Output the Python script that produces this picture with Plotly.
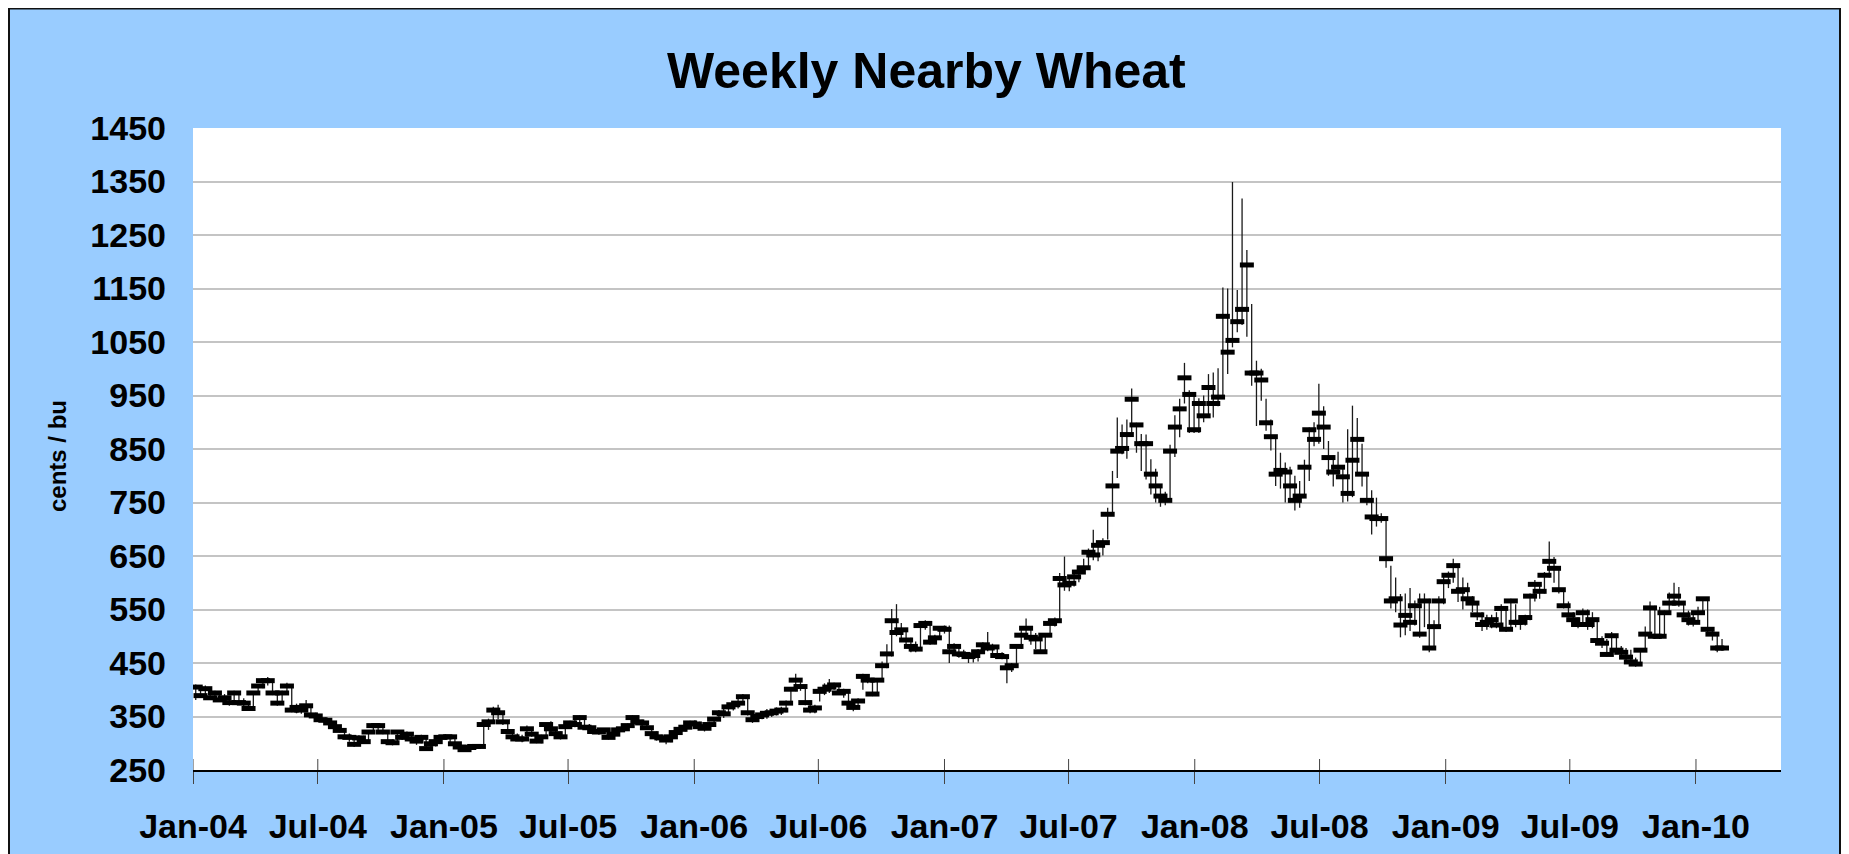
import pandas as pd
import plotly.graph_objects as go

# ---------------- data (weekly, cents / bu) ----------------
START_WEEK = "2004-01-05"

CLOSE = [
    405, 389, 402, 385, 394, 381, 385, 376, 394, 376,
    375, 365, 394, 407, 417, 417, 394, 375, 394, 407,
    362, 367, 362, 370, 353, 351, 344, 343, 338, 331,
    324, 312, 311, 298, 310, 303, 321, 333, 333, 321,
    303, 301, 321, 311, 317, 308, 304, 311, 290, 299,
    303, 311, 312, 312, 299, 293, 288, 292, 294, 294,
    335, 340, 362, 357, 340, 322, 312, 308, 308, 327,
    317, 304, 312, 335, 327, 318, 312, 331, 338, 335,
    348, 330, 329, 322, 321, 325, 311, 317, 325, 327,
    333, 348, 340, 338, 329, 318, 312, 310, 306, 312,
    320, 326, 330, 338, 336, 331, 328, 335, 345, 357,
    355, 368, 372, 375, 387, 357, 344, 350, 353, 356,
    357, 360, 362, 375, 401, 418, 406, 376, 362, 366,
    397, 401, 405, 409, 394, 397, 375, 367, 379, 425,
    418, 392, 418, 445, 467, 529, 507, 512, 493, 481,
    476, 520, 524, 489, 497, 515, 513, 471, 481, 467,
    466, 462, 464, 471, 484, 478, 480, 464, 462, 441,
    445, 481, 502, 515, 498, 495, 471, 502, 524, 529,
    608, 596, 599, 611, 620, 628, 657, 652, 670, 675,
    728, 781, 846, 851, 877, 943, 895, 860, 860, 803,
    781, 762, 754, 846, 891, 925, 983, 952, 886, 935,
    912, 965, 935, 947, 1098, 1031, 1053, 1088, 1111, 1194,
    992, 992, 979, 899, 873, 803, 810, 807, 781, 754,
    762, 816, 886, 868, 917, 891, 834, 807, 816, 798,
    767, 829, 868, 803, 754, 723, 720, 720, 645, 566,
    570, 521, 539, 526, 557, 504, 566, 478, 518, 566,
    602, 614, 632, 584, 587, 570, 562, 540, 522, 526,
    531, 521, 552, 513, 566, 526, 526, 535, 575, 597,
    584, 614, 640, 627, 587, 557, 540, 531, 522, 544,
    522, 531, 492, 487, 466, 501, 474, 470, 461, 452,
    448, 474, 504, 553, 500, 500, 544, 562, 575, 562,
    540, 531, 526, 544, 570, 513, 504, 478, 478,
]

HIGH = [
    410, 406, 408, 403, 398, 396, 392, 388, 398, 395,
    384, 378, 396, 410, 421, 424, 418, 397, 398, 413,
    409, 374, 373, 381, 371, 357, 352, 348, 345, 340,
    333, 326, 318, 313, 315, 314, 323, 338, 338, 336,
    322, 307, 324, 324, 322, 320, 313, 316, 312, 301,
    306, 314, 317, 315, 314, 301, 295, 295, 297, 298,
    337, 346, 368, 372, 359, 343, 325, 318, 316, 333,
    330, 320, 316, 338, 341, 330, 322, 334, 342, 344,
    352, 349, 336, 332, 328, 328, 326, 320, 328, 331,
    337, 352, 350, 344, 340, 330, 322, 316, 314, 318,
    325, 330, 334, 342, 343, 340, 337, 340, 349, 362,
    364, 371, 378, 385, 392, 390, 360, 356, 358, 364,
    362, 367, 368, 380, 405, 430, 422, 405, 380, 372,
    401, 412, 420, 413, 412, 402, 398, 380, 384, 430,
    428, 420, 421, 453, 485, 551, 560, 525, 515, 497,
    490, 524, 530, 527, 503, 518, 520, 520, 487, 484,
    475, 470, 469, 476, 489, 508, 486, 481, 470, 464,
    450, 485, 514, 533, 515, 506, 496, 505, 527, 535,
    618, 649, 612, 620, 630, 645, 664, 699, 674, 683,
    740, 809, 909, 896, 905, 963, 899, 878, 877, 831,
    813, 781, 770, 858, 913, 944, 1011, 960, 955, 945,
    950, 990, 993, 1001, 1152, 1150, 1349, 1147, 1318, 1222,
    1121, 1015, 1000, 944, 905, 875, 843, 825, 817, 800,
    790, 830, 890, 900, 972, 930, 865, 838, 845, 820,
    887, 931, 908, 860, 806, 773, 759, 730, 720, 632,
    610, 579, 580, 590, 567, 580, 580, 570, 530, 575,
    615, 621, 645, 632, 610, 600, 575, 565, 545, 540,
    540, 545, 560, 555, 570, 560, 535, 540, 580, 605,
    600, 620, 677, 648, 625, 590, 565, 545, 535, 552,
    550, 545, 532, 500, 495, 508, 500, 482, 478, 475,
    460, 478, 518, 565, 557, 555, 548, 582, 600, 592,
    566, 548, 540, 555, 572, 570, 515, 505, 495,
]

LOW = [
    381, 386, 387, 382, 380, 377, 378, 370, 374, 372,
    368, 362, 363, 390, 403, 408, 390, 370, 372, 390,
    358, 356, 355, 358, 350, 345, 341, 337, 333, 328,
    320, 308, 303, 293, 296, 299, 300, 318, 325, 317,
    300, 296, 300, 306, 308, 302, 297, 300, 288, 288,
    294, 300, 307, 299, 296, 288, 284, 286, 289, 290,
    293, 325, 338, 345, 334, 318, 306, 304, 302, 305,
    312, 300, 300, 310, 320, 310, 307, 310, 327, 330,
    333, 327, 322, 318, 316, 318, 307, 309, 314, 321,
    324, 330, 334, 330, 325, 314, 305, 304, 298, 302,
    310, 316, 322, 327, 330, 325, 322, 325, 331, 343,
    347, 354, 361, 365, 372, 352, 338, 340, 345, 346,
    349, 352, 353, 358, 372, 397, 398, 371, 356, 356,
    378, 390, 394, 400, 390, 385, 372, 360, 364, 400,
    412, 388, 390, 418, 440, 462, 500, 495, 485, 470,
    470, 475, 512, 484, 485, 495, 505, 450, 466, 460,
    459, 450, 451, 453, 468, 472, 468, 461, 457, 412,
    433, 445, 476, 496, 484, 476, 468, 470, 500, 518,
    529, 585, 584, 593, 601, 618, 625, 642, 640, 651,
    681, 725, 796, 840, 832, 880, 843, 809, 793, 765,
    750, 742, 745, 752, 835, 872, 935, 880, 880, 880,
    900, 915, 909, 930, 945, 990, 1040, 1068, 1082, 1060,
    968, 893, 940, 884, 847, 781, 776, 750, 750, 735,
    740, 760, 790, 855, 860, 850, 800, 780, 800, 750,
    752, 760, 800, 780, 745, 690, 705, 712, 628, 552,
    545, 498, 502, 510, 520, 497, 517, 470, 476, 515,
    560, 590, 600, 564, 550, 565, 545, 530, 510, 512,
    515, 515, 515, 508, 510, 517, 512, 520, 530, 565,
    570, 580, 610, 600, 580, 552, 535, 525, 515, 520,
    512, 515, 487, 478, 462, 465, 468, 460, 455, 446,
    443, 447, 472, 500, 495, 495, 498, 540, 558, 555,
    535, 520, 518, 525, 540, 508, 492, 470, 473,
]

TICK_DATES = ["2004-01-01", "2004-07-01", "2005-01-01", "2005-07-01",
              "2006-01-01", "2006-07-01", "2007-01-01", "2007-07-01",
              "2008-01-01", "2008-07-01", "2009-01-01", "2009-07-01",
              "2010-01-01"]
TICK_LABELS = ["Jan-04", "Jul-04", "Jan-05", "Jul-05", "Jan-06", "Jul-06",
               "Jan-07", "Jul-07", "Jan-08", "Jul-08", "Jan-09", "Jul-09",
               "Jan-10"]
Y_TICKS = [250, 350, 450, 550, 650, 750, 850, 950, 1050, 1150, 1250, 1350, 1450]

TITLE = "Weekly Nearby Wheat"
Y_TITLE = "cents / bu"

# ---------------- figure ----------------
n = min(len(CLOSE), len(HIGH), len(LOW))
dates = pd.date_range(START_WEEK, periods=n, freq="7D")
close = CLOSE[:n]
up = [h - c for h, c in zip(HIGH[:n], close)]
down = [c - l for c, l in zip(close, LOW[:n])]

BLUE = "#99CCFF"
FIG_W, FIG_H = 1833, 850
ML, MR, MT, MB = 185, 60, 120, 88
PW = FIG_W - ML - MR
PH = FIG_H - MT - MB

def px_x(fx):
    return (fx - ML) / PW

def px_y(fy):
    return (FIG_H - MB - fy) / PH

fig = go.Figure()
fig.add_trace(go.Scatter(
    x=dates, y=close, mode="markers",
    marker=dict(symbol="line-ew", size=10, color="black",
                line=dict(width=5, color="black")),
    error_y=dict(type="data", symmetric=False, array=up, arrayminus=down,
                 width=0, thickness=1.3, color="#1a1a1a"),
    hoverinfo="skip", showlegend=False,
))

bold = dict(family="Liberation Sans, Arial, sans-serif", color="black", weight="bold")

shapes = []
# inner half of the crossing x ticks
for d in TICK_DATES:
    shapes.append(dict(type="line", xref="x", yref="paper", x0=d, x1=d,
                       y0=0, y1=11 / PH, line=dict(color="#444444", width=1)))
# chart frame border
shapes.append(dict(type="rect", xref="paper", yref="paper",
                   x0=px_x(1), x1=px_x(FIG_W - 1), y0=px_y(FIG_H + 50), y1=px_y(0.5),
                   line=dict(color="#111111", width=2), fillcolor="rgba(0,0,0,0)",
                   layer="above"))

fig.update_layout(
    width=FIG_W, height=FIG_H,
    margin=dict(l=ML, r=MR, t=MT, b=MB, pad=0),
    paper_bgcolor=BLUE, plot_bgcolor="white",
    showlegend=False,
    shapes=shapes,
    xaxis=dict(
        type="date", range=["2004-01-01", "2010-05-05"],
        tickmode="array", tickvals=TICK_DATES, ticktext=TICK_LABELS,
        ticks="outside", ticklen=12, tickwidth=1, tickcolor="#444444",
        showline=True, linecolor="black", linewidth=1.5,
        showgrid=False, zeroline=False, tickfont=dict(size=34, **bold),
        ticklabelstandoff=13, fixedrange=True,
    ),
    yaxis=dict(
        range=[250, 1450], tickmode="array", tickvals=Y_TICKS,
        ticks="", showline=False, zeroline=False,
        showgrid=True, gridcolor="#C4C4C4", gridwidth=1.5,
        tickfont=dict(size=34, **bold), ticklabelstandoff=26, fixedrange=True,
    ),
    annotations=[
        dict(text=TITLE, xref="paper", yref="paper",
             x=px_x(918), y=px_y(63), xanchor="center", yanchor="middle",
             showarrow=False, font=dict(size=50, **bold)),
        dict(text=Y_TITLE, xref="paper", yref="paper",
             x=px_x(49), y=px_y(448), xanchor="center", yanchor="middle",
             textangle=-90, showarrow=False, font=dict(size=24, **bold)),
    ],
)

fig.write_html("out.html")
